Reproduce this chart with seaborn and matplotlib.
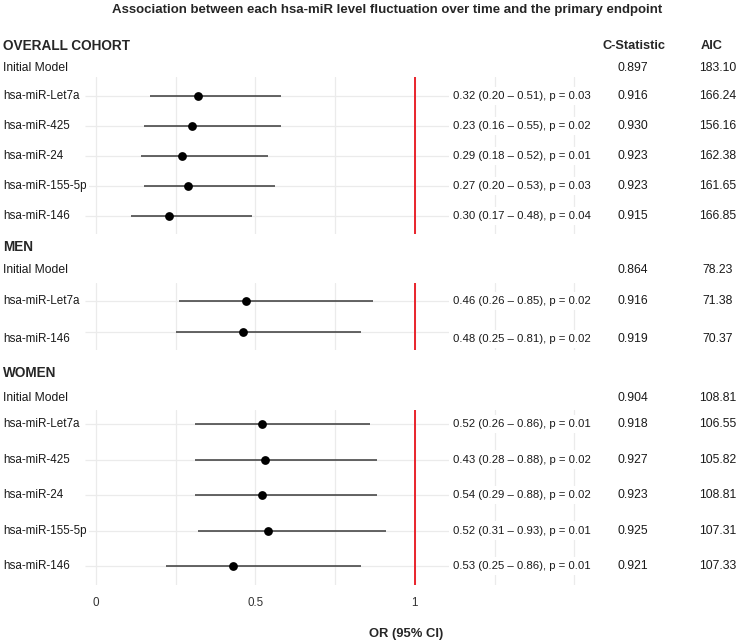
#%% import libraries
import numpy as np
import pandas as pd
import seaborn as sns
import matplotlib.pyplot as plt

#%% data
overall_labels = ['hsa-miR-Let7a', 'hsa-miR-425', 'hsa-miR-24', 'hsa-miR-155-5p', 'hsa-miR-146']
overall_or = [0.32, 0.30, 0.27, 0.29, 0.23]
overall_lo = [0.17, 0.15, 0.14, 0.15, 0.11]
overall_hi = [0.58, 0.58, 0.54, 0.56, 0.49]
overall_text = ['0.32 (0.20 – 0.51), p = 0.03', '0.23 (0.16 – 0.55), p = 0.02',
                '0.29 (0.18 – 0.52), p = 0.01', '0.27 (0.20 – 0.53), p = 0.03',
                '0.30 (0.17 – 0.48), p = 0.04']
overall_cstat = ['0.916', '0.930', '0.923', '0.923', '0.915']
overall_aic = ['166.24', '156.16', '162.38', '161.65', '166.85']
overall_initial = ['0.897', '183.10']

men_labels = ['hsa-miR-Let7a', 'hsa-miR-146']
men_or = [0.47, 0.46]
men_lo = [0.26, 0.25]
men_hi = [0.87, 0.83]
men_text = ['0.46 (0.26 – 0.85), p = 0.02', '0.48 (0.25 – 0.81), p = 0.02']
men_cstat = ['0.916', '0.919']
men_aic = ['71.38', '70.37']
men_initial = ['0.864', '78.23']

women_labels = ['hsa-miR-Let7a', 'hsa-miR-425', 'hsa-miR-24', 'hsa-miR-155-5p', 'hsa-miR-146']
women_or = [0.52, 0.53, 0.52, 0.54, 0.43]
women_lo = [0.31, 0.31, 0.31, 0.32, 0.22]
women_hi = [0.86, 0.88, 0.88, 0.91, 0.83]
women_text = ['0.52 (0.26 – 0.86), p = 0.01', '0.43 (0.28 – 0.88), p = 0.02',
              '0.54 (0.29 – 0.88), p = 0.02', '0.52 (0.31 – 0.93), p = 0.01',
              '0.53 (0.25 – 0.86), p = 0.01']
women_cstat = ['0.918', '0.927', '0.923', '0.925', '0.921']
women_aic = ['106.55', '105.82', '108.81', '107.31', '107.33']
women_initial = ['0.904', '108.81']

x_ticks = [0, 0.25, 0.5, 0.75, 1, 1.25, 1.5]
x_ticklabels = ['0', '', '0.5', '', '1', '', '']

#%% style
sns.set_theme(style='white')
plt.rcParams['font.family'] = ['Liberation Sans', 'DejaVu Sans']
head_font = ['Liberation Sans Narrow', 'Liberation Sans', 'DejaVu Sans']

W, H = 740, 643
fig = plt.figure(figsize=(W / 100, H / 100), dpi=100)


def px(x, y):
    return x / W, 1 - y / H


def ftext(x, y, s, **kw):
    fx, fy = px(x, y)
    fig.text(fx, fy, s, va='center', **kw)


grid_col = '#ebebeb'
txt_col = '#1a1a1a'
x_left, x_right = -0.301, 1.549
col_txt, col_c, col_aic = 1.119, 1.683, 1.950
val_size = 8.8

panels = [
    (overall_labels, overall_or, overall_lo, overall_hi, overall_text,
     overall_cstat, overall_aic, 77, 234, (4.6, -0.63), [0, 0, 0, 0, 0]),
    (men_labels, men_or, men_lo, men_hi, men_text,
     men_cstat, men_aic, 283, 350, (1.58, -0.58), [0, 0.22]),
    (women_labels, women_or, women_lo, women_hi, women_text,
     women_cstat, women_aic, 410, 585, (4.53, -0.4), [0, 0, 0, 0, 0]),
]

for i, (labels, ors, lo, hi, txt, cst, aic, top, bot, ylim, off) in enumerate(panels):
    l, b = px(0, bot)
    ax = fig.add_axes([l, b, 590 / W, (bot - top) / H])
    df = pd.DataFrame({'label': labels, 'or': ors, 'lo': lo, 'hi': hi,
                       'row': np.arange(len(labels))})
    ax.set_xlim(x_left, x_right)
    ax.set_ylim(*ylim)
    ax.set_xticks(x_ticks)
    ax.set_yticks([])
    for xv in x_ticks:
        ax.axvline(xv, color=grid_col, lw=0.9, zorder=0)
    ax.hlines(df['row'], -0.035, x_right, color=grid_col, lw=0.9, zorder=0)
    ax.axvline(1, color='#e8141c', lw=1.3, zorder=1)
    ax.hlines(df['row'], df['lo'], df['hi'], color='#3a3a3a', lw=1.1, zorder=2)
    sns.scatterplot(data=df, x='or', y='row', ax=ax, color='black', s=40,
                    edgecolor='black', linewidth=0, zorder=3, legend=False)
    for r, lab, t, c, a, o in zip(df['row'], labels, txt, cst, aic, off):
        ax.text(x_left + 0.01, r + o, lab, ha='left', va='center', fontsize=8.4,
                color=txt_col, bbox=dict(fc='white', ec='none', pad=2))
        ax.text(col_txt, r + o, t, ha='left', va='center', fontsize=8.2,
                color=txt_col, bbox=dict(fc='white', ec='none', pad=3))
        ax.text(col_c, r + o, c, ha='center', va='center', fontsize=val_size,
                color=txt_col, clip_on=False)
        ax.text(col_aic, r + o, a, ha='center', va='center', fontsize=val_size,
                color=txt_col, clip_on=False)
    ax.set_xlabel('')
    ax.set_ylabel('')
    sns.despine(ax=ax, left=True, bottom=True)
    ax.tick_params(axis='x', length=0, pad=9, labelsize=8.4, labelcolor='#333333')
    if i == 2:
        ax.set_xticklabels(x_ticklabels)
    else:
        ax.set_xticklabels([])

#%% headings
ftext(387, 10, 'Association between each hsa-miR level fluctuation over time and the primary endpoint',
      ha='center', fontsize=9.5, fontweight='bold', family=head_font)
ftext(3, 46, 'OVERALL COHORT', ha='left', fontsize=9.8, fontweight='bold', family=head_font)
ftext(634, 46, 'C-Statistic', ha='center', fontsize=9.2, fontweight='bold', family=head_font)
ftext(712, 46, 'AIC', ha='center', fontsize=9.2, fontweight='bold', family=head_font)
ftext(3, 247, 'MEN', ha='left', fontsize=9.8, fontweight='bold', family=head_font)
ftext(3, 373, 'WOMEN', ha='left', fontsize=9.8, fontweight='bold', family=head_font)

c_x, a_x = 96 + 319 * col_c, 96 + 319 * col_aic
for y, vals in [(68, overall_initial), (270, men_initial), (398, women_initial)]:
    ftext(3, y, 'Initial Model', ha='left', fontsize=8.7, family=head_font, color=txt_col)
    ftext(c_x, y, vals[0], ha='center', fontsize=val_size, color=txt_col)
    ftext(a_x, y, vals[1], ha='center', fontsize=val_size, color=txt_col)

ftext(406, 634, 'OR (95% CI)', ha='center', fontsize=9.4, fontweight='bold')

fig.savefig('out.png', dpi=100)
